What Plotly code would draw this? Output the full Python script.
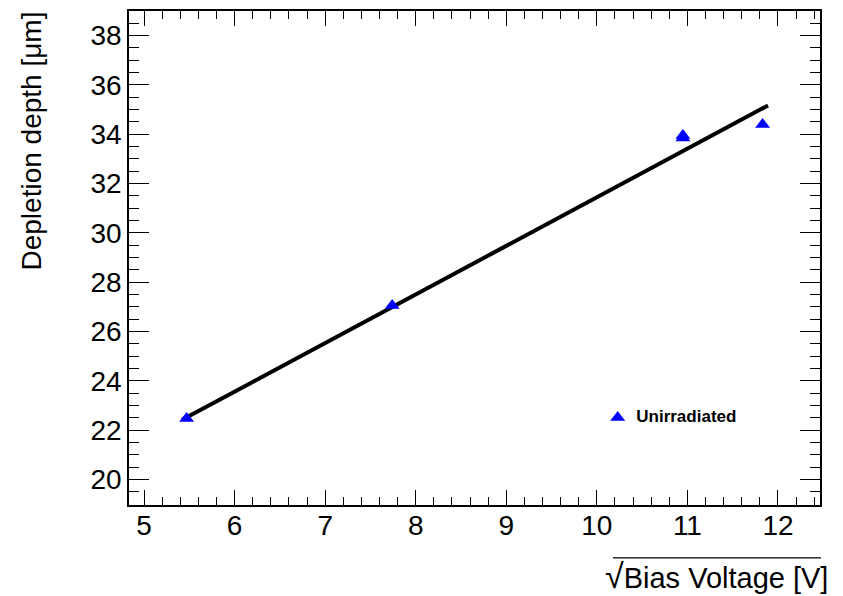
import plotly.graph_objects as go

# data
x_vals = [5.47, 7.74, 10.95, 10.95, 11.83]
y_vals = [22.47, 27.06, 33.95, 33.85, 34.40]
fit_x = [5.42, 11.89]
fit_y = [22.42, 35.17]
series_name = "Unirradiated"
legend_pos = [10.23, 22.51]

FONT = "Liberation Sans, Arial, Helvetica, sans-serif"

fig = go.Figure()
fig.add_trace(go.Scatter(x=fit_x, y=fit_y, mode="lines",
                         line=dict(color="black", width=4), showlegend=False))
fig.add_trace(go.Scatter(x=x_vals, y=y_vals, mode="markers", name=series_name,
                         marker=dict(symbol="triangle-up", size=13, color="#0000ff",
                                     line=dict(width=0)), showlegend=False))
# legend entry drawn as marker + text
fig.add_trace(go.Scatter(x=[legend_pos[0]], y=[legend_pos[1]], mode="markers+text",
                         text=["&nbsp;&nbsp;<b>" + series_name + "</b>"],
                         textposition="middle right",
                         textfont=dict(family=FONT, size=17, color="black"),
                         marker=dict(symbol="triangle-up", size=13, color="#0000ff"),
                         showlegend=False, cliponaxis=False))

axis_common = dict(showgrid=False, zeroline=False, showline=True, linecolor="black",
                   linewidth=1.5, mirror="ticks", ticks="inside", tickcolor="black",
                   tickwidth=1.2, tickfont=dict(family=FONT, size=28, color="black"))

fig.update_xaxes(range=[4.834, 12.464], dtick=1, tick0=0, ticklen=15, ticklabelstandoff=-5,
                 minor=dict(ticks="inside", ticklen=8, dtick=0.2, tick0=0, tickcolor="black", tickwidth=1.2),
                 **axis_common)
fig.update_yaxes(range=[18.965, 39.0], dtick=2, tick0=0, ticklen=20,
                 minor=dict(ticks="inside", ticklen=10, dtick=0.5, tick0=0, tickcolor="black", tickwidth=1.2),
                 **axis_common)

# page has an 8px body margin; figure coordinates below are screenshot - 8
W, H = 835, 588
L, R, T, B = 121, 23, 1, 91
pw, ph = W - L - R, H - T - B


def px(xp):
    return (xp - L) / pw


def py(yp):
    return (H - B - yp) / ph


fig.add_annotation(text="Depletion depth [μm]", textangle=-90, xref="paper", yref="paper",
                   x=px(24), y=py(0), xanchor="center", yanchor="top",
                   showarrow=False, font=dict(family=FONT, size=28, color="black"))
fig.add_annotation(text="<span style='font-size:34px'>√</span>Bias Voltage [V]", xref="paper", yref="paper",
                   x=px(822), y=py(568), xanchor="right", yanchor="middle",
                   showarrow=False, font=dict(family=FONT, size=29, color="black"))
fig.add_shape(type="line", xref="paper", yref="paper",
              x0=px(605), x1=px(813), y0=py(550), y1=py(550),
              line=dict(color="black", width=1.2))

fig.update_layout(width=W, height=H, margin=dict(l=L, r=R, t=T, b=B),
                  plot_bgcolor="white", paper_bgcolor="white", showlegend=False,
                  font=dict(family=FONT))
fig.write_html("out.html")
